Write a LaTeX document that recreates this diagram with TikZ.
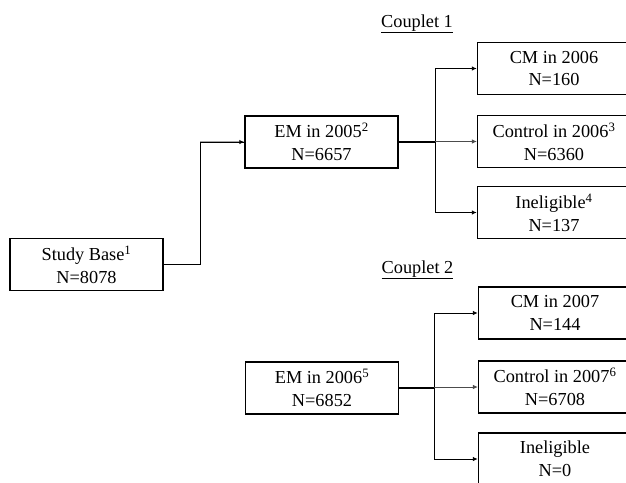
\documentclass[tikz,border=0pt]{standalone}
\usepackage{fontspec}
\setmainfont{Liberation Serif}
\usetikzlibrary{arrows.meta}
\tikzset{
  box/.style={draw, line width=1.4pt, minimum width=153pt, minimum height=52pt, align=center, inner sep=0pt,
    font=\fontsize{18.3}{22.6}\selectfont},
  conn/.style={line width=0.9pt},
  trunk/.style={line width=1.4pt},
  arr/.style={line width=0.9pt, -{Latex[length=5pt,width=4.5pt]}},
  lbl/.style={font=\fontsize{18.3}{22.6}\selectfont, inner sep=0pt}
}
\begin{document}
\begin{tikzpicture}[x=1pt,y=-1pt]
\useasboundingbox (0,0) rectangle (626,482);
\clip (0,0) rectangle (626,482);
% nodes
\node[box] (sb) at (86.5,264.5) {Study Base\textsuperscript{1}\\N=8078};
\node[box] (em1) at (321.5,142) {EM in 2005\textsuperscript{2}\\N=6657};
\node[box] (em2) at (322,388) {EM in 2006\textsuperscript{5}\\N=6852};
\node[box] (cm1) at (554,68.5) {CM in 2006\\N=160};
\node[box] (co1) at (554,141.5) {Control in 2006\textsuperscript{3}\\N=6360};
\node[box] (in1) at (554,212.5) {Ineligible\textsuperscript{4}\\N=137};
\node[box] (cm2) at (555,313) {CM in 2007\\N=144};
\node[box] (co2) at (555,387) {Control in 2007\textsuperscript{6}\\N=6708};
\node[box] (in2) at (555,459) {Ineligible\\N=0};
\node[lbl, anchor=base] (c1) at (417,27) {\underline{Couplet 1}};
\node[lbl, anchor=base] (c2) at (417.5,273) {\underline{Couplet 2}};
% trunk coordinates
\coordinate (t0) at (200,0);
\coordinate (t1) at (435,0);
\coordinate (t2) at (434,0);
% study base to EM 2005
\draw[conn] (sb.east) -- (sb.east -| t0) |- (em1.west);
\draw[arr] ([yshift=-0.1pt]em1.west -| t0) -- (em1.west);
% couplet 1
\draw[trunk] (em1.east) -- (em1.east -| t1);
\draw[conn] (cm1.west -| t1) -- (in1.west -| t1);
\draw[arr] (cm1.west -| t1) -- (cm1.west);
\draw[arr, gray!60!black, line width=0.7pt] (co1.west -| t1) -- (co1.west);
\draw[arr] (in1.west -| t1) -- (in1.west);
% couplet 2
\draw[trunk] (em2.east) -- (em2.east -| t2);
\draw[conn] (cm2.west -| t2) -- (in2.west -| t2);
\draw[arr] (cm2.west -| t2) -- (cm2.west);
\draw[arr, gray!60!black, line width=0.7pt] (co2.west -| t2) -- (co2.west);
\draw[arr] (in2.west -| t2) -- (in2.west);
\end{tikzpicture}
\end{document}
